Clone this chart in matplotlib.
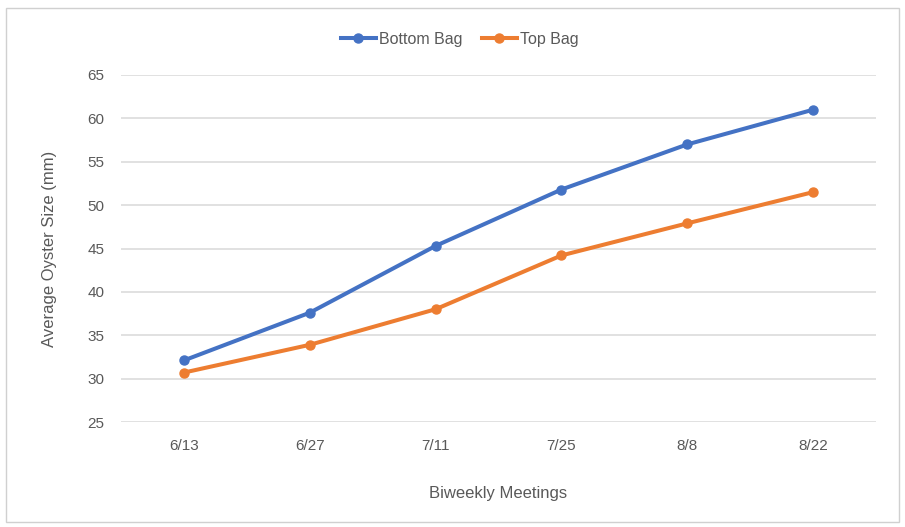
import matplotlib.pyplot as plt
from matplotlib.patches import Rectangle

# Daten
dates = ["6/13", "6/27", "7/11", "7/25", "8/8", "8/22"]
bottom_bag = [32.1, 37.6, 45.3, 51.8, 57.0, 61.0]
top_bag = [30.7, 33.9, 38.0, 44.2, 47.9, 51.5]

plt.rcParams['font.family'] = ['Liberation Sans', 'DejaVu Sans']

fig = plt.figure(figsize=(9.05, 5.27), dpi=100)
ax = fig.add_axes([0.1337, 0.1992, 0.968 - 0.1337, 0.8577 - 0.1992])

x = list(range(len(dates)))
ax.plot(x, bottom_bag, color='#4472C4', lw=2.9, marker='o', ms=6.5, label='Bottom Bag')
ax.plot(x, top_bag, color='#ED7D31', lw=2.9, marker='o', ms=6.5, label='Top Bag')

ax.set_xlim(-0.5, len(dates) - 0.5)
ax.set_ylim(25, 65)
ax.set_yticks(range(25, 66, 5))
ax.set_xticks(x)
ax.set_xticklabels(dates)
ax.grid(axis='y', color='#D9D9D9', lw=1.1)
ax.set_axisbelow(True)
for s in ax.spines.values():
    s.set_visible(False)
ax.tick_params(length=0, labelsize=11, colors='#595959', pad=12)

ax.set_xlabel("Biweekly Meetings", fontsize=12, color='#595959', labelpad=24)
ax.set_ylabel("Average Oyster Size (mm)", fontsize=12, color='#595959', labelpad=22)

leg = fig.legend(loc='center', bbox_to_anchor=(0.508, 0.925), ncol=2, frameon=False,
                 fontsize=11.5, handlelength=2.2, columnspacing=1.2, handletextpad=0.2)
for t in leg.get_texts():
    t.set_color('#595959')

# Rahmen
fig.patches.append(Rectangle((0.007, 0.01), 0.986, 0.975, transform=fig.transFigure,
                             fill=False, edgecolor='#D0D0D0', lw=1))

fig.savefig("out.png", dpi=100)
